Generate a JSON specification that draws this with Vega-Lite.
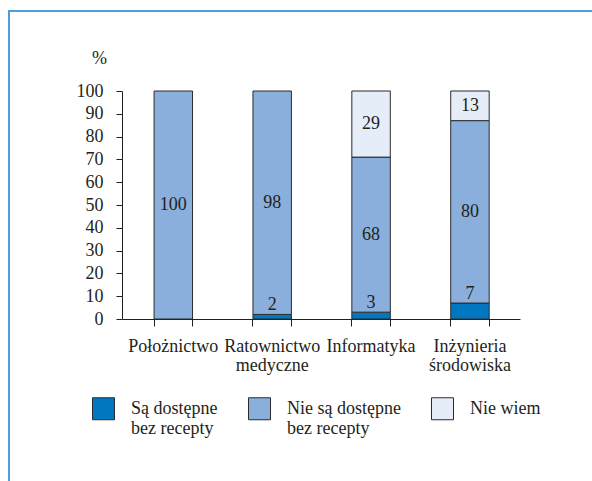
{
  "$schema": "https://vega.github.io/schema/vega-lite/v6.json",
  "width": 587,
  "height": 474,
  "autosize": {"type": "none"},
  "padding": {"left": 9, "top": 11, "right": -4, "bottom": -4},
  "background": "white",
  "config": {
    "view": {"stroke": "#4a9fdc", "strokeWidth": 2},
    "font": "Liberation Serif, Times New Roman, serif",
    "axis": {"grid": false, "domainColor": "#231f20", "tickColor": "#231f20", "labelColor": "#231f20", "titleColor": "#231f20", "labelFont": "Liberation Serif, Times New Roman, serif", "titleFont": "Liberation Serif, Times New Roman, serif", "labelFontSize": 18, "titleFontSize": 18, "titleFontWeight": "normal"}
  },
  "data": {
    "values": [
      {"kierunek": "Położnictwo", "odp": "Nie są dostępne bez recepty", "k": 2, "v": 100},
      {"kierunek": "Ratownictwo medyczne", "odp": "Są dostępne bez recepty", "k": 1, "v": 2},
      {"kierunek": "Ratownictwo medyczne", "odp": "Nie są dostępne bez recepty", "k": 2, "v": 98},
      {"kierunek": "Informatyka", "odp": "Są dostępne bez recepty", "k": 1, "v": 3},
      {"kierunek": "Informatyka", "odp": "Nie są dostępne bez recepty", "k": 2, "v": 68},
      {"kierunek": "Informatyka", "odp": "Nie wiem", "k": 3, "v": 29},
      {"kierunek": "Inżynieria środowiska", "odp": "Są dostępne bez recepty", "k": 1, "v": 7},
      {"kierunek": "Inżynieria środowiska", "odp": "Nie są dostępne bez recepty", "k": 2, "v": 80},
      {"kierunek": "Inżynieria środowiska", "odp": "Nie wiem", "k": 3, "v": 13}
    ]
  },
  "resolve": {"axis": {"x": "independent"}},
  "layer": [
    {
      "mark": {"type": "bar", "stroke": "#2b2b2b", "strokeWidth": 1},
      "encoding": {
        "x": {
          "field": "kierunek", "type": "nominal",
          "sort": ["Położnictwo", "Ratownictwo medyczne", "Informatyka", "Inżynieria środowiska"],
          "scale": {"range": [113, 511], "paddingInner": 0.611, "paddingOuter": 0.318, "align": 0.51},
          "axis": {"title": null, "orient": "bottom", "labelAngle": 0, "bandPosition": 0, "offset": -166, "tickSize": 7, "labelPadding": 11, "labelLineHeight": 19, "labelExpr": "split(datum.label, ' ')", "labelLimit": 300}
        },
        "y": {"field": "v", "type": "quantitative", "stack": "zero", "title": "%",
          "scale": {"domain": [0, 100], "range": [308, 80], "nice": false},
          "axis": {"offset": -113, "values": [0, 10, 20, 30, 40, 50, 60, 70, 80, 90, 100], "tickSize": 6, "labelPadding": 13, "titleAngle": 0, "titleX": -23, "titleY": 47, "titleAlign": "center", "titleBaseline": "middle"}},
        "color": {
          "field": "odp",
          "type": "nominal",
          "scale": {"domain": ["Są dostępne bez recepty", "Nie są dostępne bez recepty", "Nie wiem"], "range": ["#0077c0", "#8aafdc", "#e4edf8"]},
          "legend": {"orient": "none", "legendX": 83, "legendY": 386, "direction": "horizontal", "columns": 3, "title": null, "symbolType": "square", "symbolSize": 484, "symbolStrokeColor": "#2b2b2b", "symbolStrokeWidth": 1, "labelFontSize": 18, "labelFont": "Liberation Serif, Times New Roman, serif", "labelColor": "#231f20", "labelOffset": 16, "columnPadding": 28, "labelLimit": 300, "padding": 0,
            "labelExpr": "indexof(datum.label, ' bez ') > 0 ? [slice(datum.label, 0, indexof(datum.label, ' bez ')), 'bez recepty'] : [datum.label, '']"}
        },
        "order": {"field": "k", "type": "quantitative"}
      }
    },
    {
      "transform": [
        {"stack": "v", "groupby": ["kierunek"], "sort": [{"field": "k"}], "as": ["v0", "v1"]},
        {"filter": "datum.k == 1"}
      ],
      "mark": {"type": "text", "baseline": "alphabetic", "dy": -4, "fontSize": 18, "font": "Liberation Serif, Times New Roman, serif", "color": "#231f20"},
      "encoding": {
        "x": {"field": "kierunek", "type": "nominal", "sort": ["Położnictwo", "Ratownictwo medyczne", "Informatyka", "Inżynieria środowiska"], "axis": null},
        "y": {"field": "v1", "type": "quantitative", "title": "%",
          "scale": {"domain": [0, 100], "range": [308, 80], "nice": false},
          "axis": {"offset": -113, "values": [0, 10, 20, 30, 40, 50, 60, 70, 80, 90, 100], "tickSize": 6, "labelPadding": 13, "titleAngle": 0, "titleX": -23, "titleY": 47, "titleAlign": "center", "titleBaseline": "middle"}},
        "text": {"field": "v", "type": "quantitative"}
      }
    },
    {
      "transform": [
        {"stack": "v", "groupby": ["kierunek"], "sort": [{"field": "k"}], "as": ["v0", "v1"]},
        {"filter": "datum.k > 1"},
        {"calculate": "(datum.v0 + datum.v1) / 2", "as": "mid"}
      ],
      "mark": {"type": "text", "baseline": "middle", "fontSize": 18, "font": "Liberation Serif, Times New Roman, serif", "color": "#231f20"},
      "encoding": {
        "x": {"field": "kierunek", "type": "nominal", "sort": ["Położnictwo", "Ratownictwo medyczne", "Informatyka", "Inżynieria środowiska"], "axis": null},
        "y": {"field": "mid", "type": "quantitative", "title": "%",
          "scale": {"domain": [0, 100], "range": [308, 80], "nice": false},
          "axis": {"offset": -113, "values": [0, 10, 20, 30, 40, 50, 60, 70, 80, 90, 100], "tickSize": 6, "labelPadding": 13, "titleAngle": 0, "titleX": -23, "titleY": 47, "titleAlign": "center", "titleBaseline": "middle"}},
        "text": {"field": "v", "type": "quantitative"}
      }
    },
    {
      "mark": {"type": "text", "opacity": 0},
      "encoding": {
        "x": {"field": "kierunek", "type": "nominal", "sort": ["Położnictwo", "Ratownictwo medyczne", "Informatyka", "Inżynieria środowiska"],
          "axis": {"title": null, "orient": "bottom", "bandPosition": 1, "offset": -166, "tickSize": 7, "labels": false, "domain": false}},
        "text": {"value": ""}
      }
    }
  ]
}
